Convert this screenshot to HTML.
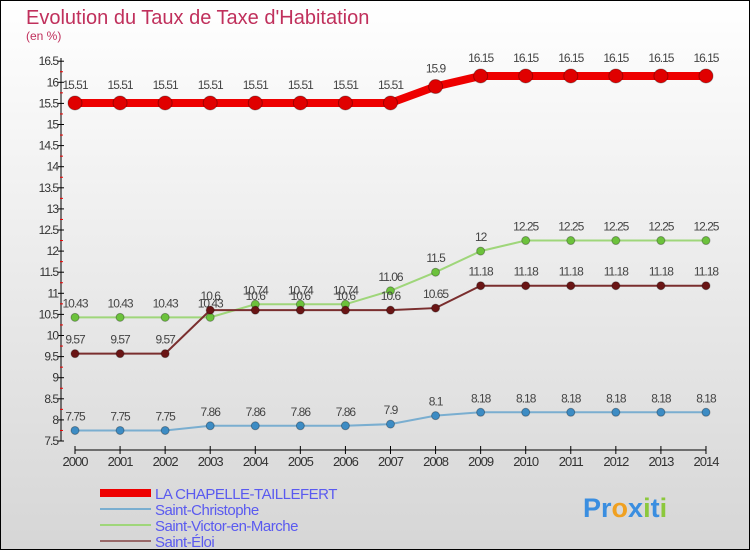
<!DOCTYPE html>
<html><head><meta charset="utf-8"><style>
body{margin:0}
#c{width:750px;height:550px;position:relative;box-sizing:border-box;border:1px solid #000;background:linear-gradient(#fff,#d6d6d6);font-family:"Liberation Sans",sans-serif;overflow:hidden}
</style></head><body>
<div id="c">
<svg id="s" width="750" height="550" style="position:absolute;left:-1px;top:-1px">
<text x="26" y="24" font-size="20" fill="#c0305c">Evolution du Taux de Taxe d'Habitation</text>
<text x="26" y="40" font-size="12" fill="#c0305c">(en %)</text>
</svg>
</div>
<script>
const years=[2000,2001,2002,2003,2004,2005,2006,2007,2008,2009,2010,2011,2012,2013,2014];
const chapelle=[15.51,15.51,15.51,15.51,15.51,15.51,15.51,15.51,15.9,16.15,16.15,16.15,16.15,16.15,16.15];
const christophe=[7.75,7.75,7.75,7.86,7.86,7.86,7.86,7.9,8.1,8.18,8.18,8.18,8.18,8.18,8.18];
const victor=[10.43,10.43,10.43,10.43,10.74,10.74,10.74,11.06,11.5,12,12.25,12.25,12.25,12.25,12.25];
const eloi=[9.57,9.57,9.57,10.6,10.6,10.6,10.6,10.6,10.65,11.18,11.18,11.18,11.18,11.18,11.18];
const yTicks=[7.5,8,8.5,9,9.5,10,10.5,11,11.5,12,12.5,13,13.5,14,14.5,15,15.5,16,16.5];
const names=["LA CHAPELLE-TAILLEFERT","Saint-Christophe","Saint-Victor-en-Marche","Saint-Éloi"];
const s=document.getElementById('s'),NS='http://www.w3.org/2000/svg';
const X=i=>75+i*45.07, Y=v=>441-(v-7.5)*42.2;
function el(t,a,p){const e=document.createElementNS(NS,t);for(const k in a)e.setAttribute(k,a[k]);(p||s).appendChild(e);return e;}
let ax=el('line',{x1:61,y1:58,x2:61,y2:441,stroke:'#000'});

let bx=el('line',{x1:75,y1:450,x2:706,y2:450,stroke:'#000'});

yTicks.forEach((v,i)=>{el('line',{x1:58,x2:64,y1:Y(v),y2:Y(v),stroke:'#000'});
 if(i<yTicks.length-1)el('line',{x1:60,x2:63,y1:Y(v+0.25),y2:Y(v+0.25),stroke:'#e00'});
 let t=el('text',{x:58,y:Y(v)+4,'font-size':12,'text-anchor':'end',fill:'#333','letter-spacing':'-1'});t.textContent=v;
 });
years.forEach((y,i)=>{el('line',{x1:X(i),x2:X(i),y1:446,y2:454,stroke:'#000'});
 let t=el('text',{x:X(i),y:466,'font-size':13,'text-anchor':'middle',fill:'#333','letter-spacing':'-1'});t.textContent=y;
 });
function series(d,col,w,r,dot,name){
 const g=el('g',{});
 el('polyline',{points:d.map((v,i)=>X(i)+','+Y(v)).join(' '),fill:'none',stroke:col,'stroke-width':w},g);
 d.forEach((v,i)=>{el('circle',{cx:X(i),cy:Y(v),r:r,fill:dot,stroke:'rgba(0,0,0,0.3)'},g);
  let t=el('text',{x:X(i),y:Y(v)-10-(r>5?4:0),'font-size':12,'text-anchor':'middle',fill:'#444','letter-spacing':'-1'},g);t.textContent=v;});
}
series(christophe,'#7aaed0',2,4,'#3d8cc4','series-saint-christophe');
series(victor,'#9fd67a',2,4,'#6cc23c','series-saint-victor');
series(eloi,'#7a2e2e',2,4,'#6a1515','series-saint-eloi');
series(chapelle,'#ee0000',8,7,'#e00000','series-la-chapelle');
const lc=['#ee0000','#7aaed0','#9fd67a','#9a6a6a'],lw=[8,2,2,2];
names.forEach((n,i)=>{const y=493+i*16;
 el('line',{x1:100,x2:151,y1:y,y2:y,stroke:lc[i],'stroke-width':lw[i]});
 let t=el('text',{x:155,y:y+6,'font-size':15,fill:'#5a5af0','letter-spacing':'-0.5'});t.textContent=n;
 });
let p=el('text',{x:583,y:517,'font-size':27,'font-weight':'bold',fill:'#3a8ee0'});
p.innerHTML='<tspan>Pr</tspan><tspan fill="#f0a020">o</tspan><tspan fill="#3a8ee0">x</tspan><tspan fill="#8cc83c">i</tspan><tspan fill="#3a8ee0">t</tspan><tspan fill="#8cc83c">i</tspan>';

</script>
</body></html>
